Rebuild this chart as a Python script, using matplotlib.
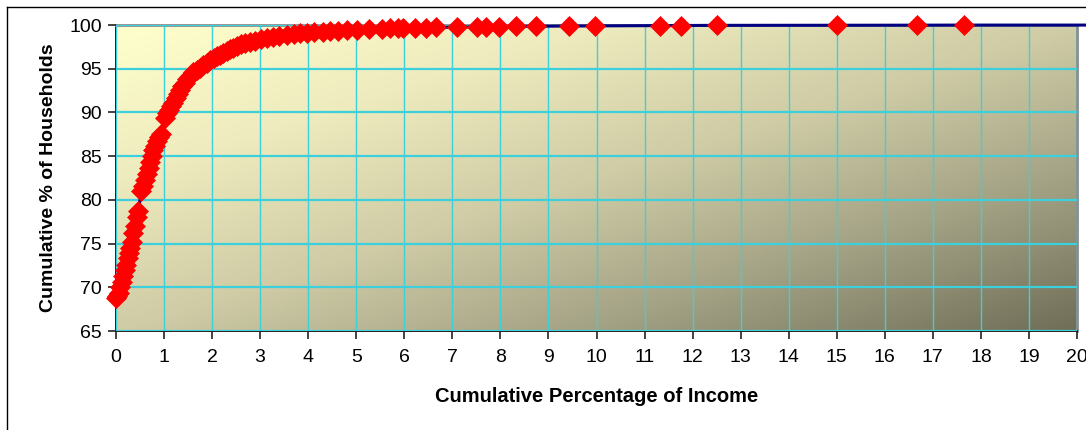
import numpy as np
import matplotlib
matplotlib.use("Agg")
import matplotlib.pyplot as plt
from matplotlib.colors import LinearSegmentedColormap
from matplotlib.lines import Line2D

plt.rcParams['font.family'] = ['Liberation Sans', 'DejaVu Sans']

# Cumulative share of income (%) against cumulative share of households (%)
income_pct = [
    0.00, 0.03, 0.06, 0.09, 0.12, 0.15, 0.18, 0.21, 0.24, 0.27,
    0.30, 0.33, 0.36, 0.39, 0.43, 0.46, 0.53, 0.56, 0.60, 0.64,
    0.68, 0.71, 0.75, 0.78, 0.82, 0.86, 0.90, 0.93, 1.02, 1.06,
    1.10, 1.14, 1.19, 1.24, 1.29, 1.33, 1.38, 1.43, 1.48, 1.54,
    1.61, 1.68, 1.75, 1.82, 1.89, 1.96, 2.03, 2.10, 2.16, 2.23,
    2.30, 2.37, 2.44, 2.52, 2.60, 2.68, 2.79, 2.90, 3.02, 3.14,
    3.27, 3.40, 3.55, 3.70, 3.83, 3.98, 4.13, 4.30, 4.45, 4.62,
    4.80, 5.01, 5.27, 5.53, 5.70, 5.87, 5.98, 6.22, 6.45, 6.66,
    7.10, 7.51, 7.70, 7.98, 8.33, 8.74, 9.42, 9.97, 11.33, 11.76,
    12.50, 15.00, 16.67, 17.65, 100.0,
]
households_pct = [
    68.8, 69.0, 69.4, 70.0, 70.6, 71.3, 72.0, 72.6, 73.3, 73.9,
    74.5, 75.2, 76.2, 77.0, 78.0, 78.7, 81.0, 81.6, 82.3, 83.0,
    83.7, 84.3, 85.0, 85.7, 86.2, 86.7, 87.2, 87.5, 89.4, 89.9,
    90.3, 90.7, 91.1, 91.6, 92.1, 92.6, 93.0, 93.4, 93.8, 94.2,
    94.6, 94.9, 95.1, 95.4, 95.7, 96.0, 96.2, 96.4, 96.6, 96.8,
    97.0, 97.2, 97.4, 97.6, 97.8, 97.9, 98.1, 98.2, 98.35, 98.5,
    98.6, 98.75, 98.85, 98.95, 99.05, 99.1, 99.2, 99.25, 99.3, 99.35,
    99.4, 99.45, 99.5, 99.55, 99.6, 99.62, 99.65, 99.68, 99.7, 99.72,
    99.76, 99.78, 99.8, 99.82, 99.84, 99.86, 99.88, 99.9, 99.93, 99.94,
    99.96, 99.97, 99.98, 99.99, 100.0,
]

x_ticks = list(range(0, 21))
y_ticks = list(range(65, 101, 5))

fig = plt.figure(figsize=(10.86, 4.30), dpi=100)
fig.patch.set_facecolor('white')

# outer chart-area frame (left and top edges)
fig.add_artist(Line2D([7 / 1086, 7 / 1086], [0, 1 - 7 / 430], color='black', lw=1.0))
fig.add_artist(Line2D([7 / 1086, 1], [1 - 7 / 430, 1 - 7 / 430], color='black', lw=1.0))

ax = fig.add_axes([116 / 1086, 1 - 331 / 430, 961 / 1086, 306 / 430])

# diagonal gradient fill of the plot area
grad = LinearSegmentedColormap.from_list(
    'plotfill',
    [(0.0, '#FFFFCC'), (0.25, '#EEEBBE'), (0.5, '#CFCCA6'),
     (0.75, '#A3A184'), (1.0, '#706E57')])
gx, gy = np.meshgrid(np.linspace(0, 1, 400), np.linspace(1, 0, 200))
ax.imshow((gx + (1 - gy)) / 2, cmap=grad, vmin=0, vmax=1,
          extent=[0, 20, 65, 100], aspect='auto', origin='upper',
          zorder=0, interpolation='bilinear')

ax.set_xlim(0, 20)
ax.set_ylim(65, 100)
ax.set_xticks(x_ticks)
ax.set_yticks(y_ticks)
ax.xaxis.grid(True, color='#3CCFDC', lw=1.0, zorder=1)
ax.yaxis.grid(True, color='#3CCFDC', lw=1.6, zorder=1)
ax.set_axisbelow(False)

ax.plot(income_pct, households_pct, color='#000080', lw=2.2, zorder=3,
        marker='D', ms=10.5, mfc='#FF0000', mec='#FF0000', mew=0.5,
        clip_on=False)
ax.set_xlim(0, 20)

for side in ('left', 'bottom'):
    ax.spines[side].set_color('#222222')
    ax.spines[side].set_linewidth(1.4)
for side in ('top', 'right'):
    ax.spines[side].set_color('#8C8C8C')
    ax.spines[side].set_linewidth(2.0)

ax.tick_params(axis='both', direction='out', length=6, width=1.2,
               color='#222222', labelsize=14, pad=4)
ax.tick_params(axis='x', pad=7)

ax.set_xlabel('Cumulative Percentage of Income', fontsize=14.5,
              fontweight='bold', labelpad=15)
ax.set_ylabel('Cumulative % of Households', fontsize=14,
              fontweight='bold', labelpad=9)

fig.savefig('out.png', dpi=100)
